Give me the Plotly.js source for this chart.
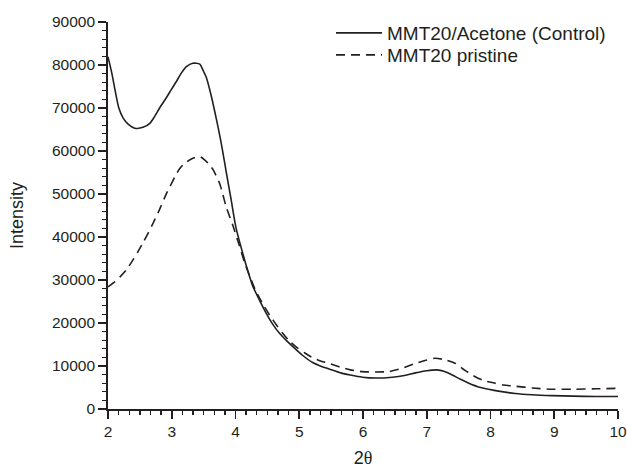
<!DOCTYPE html>
<html>
<head>
<meta charset="utf-8">
<script src="https://cdn.plot.ly/plotly-3.0.1.min.js"></script>
<style>html,body{margin:0;padding:0;background:#fff;}#chart{width:627px;height:468px;}</style>
</head>
<body>
<div id="chart"></div>
<script>
// Series names
const seriesNames = ["MMT20/Acetone (Control)", "MMT20 pristine"];

// MMT20/Acetone (Control) - solid
const controlX = [2.0,2.06,2.11,2.17,2.24,2.32,2.42,2.55,2.66,2.73,2.81,2.92,2.99,3.07,3.15,3.23,3.33,3.44,3.49,3.54,3.62,3.70,3.78,3.85,3.93,4.01,4.11,4.2,4.27,4.38,4.48,4.58,4.69,4.8,4.9,5.05,5.21,5.35,5.47,5.65,5.8,5.99,6.2,6.46,6.65,6.82,7.0,7.16,7.28,7.4,7.53,7.66,7.8,7.97,8.15,8.39,8.65,8.96,9.3,9.65,10.0];
const controlY = [81900,78100,74200,70000,67600,66200,65300,65500,66500,68000,70000,72500,74200,76100,78100,79600,80400,80200,78800,77200,72800,67400,61500,55500,48800,42000,36400,31800,28600,25200,22300,19800,17600,15900,14500,12500,10800,9900,9300,8400,7900,7400,7200,7400,7800,8400,8900,9100,8700,7900,6900,6000,5200,4600,4100,3600,3300,3100,3000,2900,2900];

// MMT20 pristine - dashed
const pristineX = [2.0,2.11,2.2,2.29,2.38,2.47,2.55,2.63,2.71,2.79,2.92,3.05,3.12,3.2,3.33,3.44,3.52,3.58,3.65,3.75,3.8,3.85,3.96,4.06,4.14,4.22,4.32,4.43,4.54,4.64,4.74,4.84,4.97,5.1,5.2,5.31,5.47,5.65,5.8,5.99,6.2,6.41,6.6,6.82,7.0,7.13,7.3,7.45,7.6,7.76,7.9,8.07,8.2,8.39,8.65,8.96,9.3,9.65,10.0];
const pristineY = [28400,29600,30900,32400,34400,36600,38700,40900,43300,45800,50200,54000,55800,57100,58300,58700,57900,57000,55600,52500,50000,47200,42600,38000,34200,31000,27400,24400,21700,19600,17600,15900,14200,12900,12000,11300,10600,9700,9100,8700,8600,8700,9400,10600,11400,11800,11400,10600,9000,7500,6600,6000,5600,5300,4900,4600,4600,4700,4800];

// Axis ticks
const xTicks = [2,3,4,5,6,7,8,9,10];
const yTicks = [0,10000,20000,30000,40000,50000,60000,70000,80000,90000];

const ink = "#231f20";
const fontFam = "Arial, 'Liberation Sans', sans-serif";

const traces = [
  {x: controlX, y: controlY, name: seriesNames[0], type: "scatter", mode: "lines", legend: "legend",
   line: {color: ink, width: 1.6, shape: "spline", smoothing: 0.7}},
  {x: pristineX, y: pristineY, name: seriesNames[1], type: "scatter", mode: "lines", legend: "legend2",
   line: {color: ink, width: 1.6, dash: "9px,6px", shape: "spline", smoothing: 0.7}}
];

const legendCommon = {xanchor: "left", yanchor: "middle", bgcolor: "rgba(0,0,0,0)",
  font: {size: 19, family: fontFam, color: ink}, itemwidth: 46, borderwidth: 0};

const layout = {
  width: 627, height: 468,
  margin: {l: 108, r: 9, t: 22, b: 59},
  paper_bgcolor: "#fff", plot_bgcolor: "#fff",
  font: {family: fontFam, color: ink},
  showlegend: true,
  legend: Object.assign({x: 0.4373, y: 0.9716}, legendCommon),
  legend2: Object.assign({x: 0.4373, y: 0.9147}, legendCommon),
  xaxis: {
    range: [2, 10], tickvals: xTicks, ticktext: xTicks.map(String),
    showgrid: false, zeroline: false, showline: true, linecolor: ink, linewidth: 1.8,
    ticks: "outside", ticklen: 8, tickwidth: 1.6, tickcolor: ink,
    ticklabeloverflow: "allow",
    tickfont: {size: 15.5, family: fontFam, color: ink},
    minor: {dtick: 1/6, ticks: "outside", ticklen: 4, tickwidth: 1.3, tickcolor: ink, showgrid: false},
    title: {text: "<span style='font-family:Arial, Liberation Sans, sans-serif'>2</span>θ", font: {size: 18, family: "'Liberation Serif', serif", color: ink}, standoff: 14}
  },
  yaxis: {
    range: [0, 90000], tickvals: yTicks, ticktext: yTicks.map(String),
    showgrid: false, zeroline: false, showline: true, linecolor: ink, linewidth: 1.8,
    ticks: "outside", ticklen: 8, tickwidth: 1.6, tickcolor: ink,
    tickfont: {size: 15.5, family: fontFam, color: ink},
    minor: {dtick: 2000, ticks: "outside", ticklen: 4, tickwidth: 1.3, tickcolor: ink, showgrid: false},
    title: {text: "Intensity", font: {size: 18, family: fontFam, color: ink}, standoff: 24}
  }
};

Plotly.newPlot("chart", traces, layout, {displayModeBar: false, staticPlot: true});
</script>
</body>
</html>
